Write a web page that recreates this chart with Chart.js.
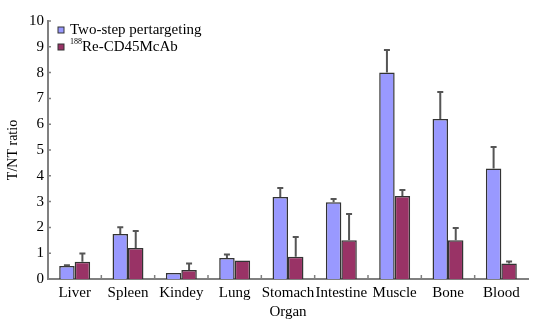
<!DOCTYPE html>
<html>
<head>
<meta charset="utf-8">
<script src="https://cdn.jsdelivr.net/npm/chart.js@4"></script>
<style>
html,body{margin:0;padding:0;background:#fff;}
#wrap{width:542px;height:324px;}
</style>
</head>
<body>
<div id="wrap"><canvas id="c" width="542" height="324"></canvas></div>
<script>
const categories = ['Liver','Spleen','Kindey','Lung','Stomach','Intestine','Muscle','Bone','Blood'];
const twoStep = [0.50,1.74,0.23,0.81,3.18,2.97,8.00,6.20,4.28];
const twoStepErr = [0.03,0.27,0.00,0.14,0.35,0.13,0.88,1.05,0.84];
const re188 = [0.67,1.20,0.35,0.72,0.86,1.50,3.22,1.50,0.60];
const re188Err = [0.32,0.66,0.25,0.00,0.77,1.02,0.23,0.48,0.08];
const yTicks = [0,1,2,3,4,5,6,7,8,9,10];
const errs = [twoStepErr, re188Err];

const FONT = 'Liberation Serif, Times New Roman, serif';

const extras = {
  id: 'extras',
  afterDatasetsDraw(chart) {
    const ctx = chart.ctx;
    const y = chart.scales.y, x = chart.scales.x;
    // error bars
    chart.data.datasets.forEach((ds, di) => {
      const meta = chart.getDatasetMeta(di);
      meta.data.forEach((bar, i) => {
        const e = errs[di][i];
        if (!e) return;
        const top = y.getPixelForValue(ds.data[i] + e);
        const bx = bar.x;
        ctx.save();
        ctx.strokeStyle = '#555';
        ctx.lineWidth = 2;
        ctx.beginPath();
        ctx.moveTo(bx, bar.y);
        ctx.lineTo(bx, top);
        ctx.moveTo(bx - 3, top);
        ctx.lineTo(bx + 3, top);
        ctx.stroke();
        ctx.restore();
      });
    });
    // axis ticks
    ctx.save();
    ctx.strokeStyle = '#808080';
    ctx.lineWidth = 1.5;
    ctx.beginPath();
    yTicks.forEach(v => {
      const py = y.getPixelForValue(v);
      ctx.moveTo(chart.chartArea.left, py);
      ctx.lineTo(chart.chartArea.left + 3, py);
    });
    const step = (chart.chartArea.right - chart.chartArea.left) / categories.length;
    for (let i = 1; i < categories.length; i++) {
      const px = chart.chartArea.left + step * i;
      ctx.moveTo(px, chart.chartArea.bottom);
      ctx.lineTo(px, chart.chartArea.bottom - 4);
    }
    ctx.stroke();
    ctx.restore();
    // legend
    const items = chart.data.datasets;
    const lx = 58;
    const rows = [30, 47];
    ctx.save();
    items.forEach((ds, i) => {
      const cy = rows[i];
      ctx.fillStyle = ds.backgroundColor;
      ctx.fillRect(lx, cy - 3, 6, 6);
      ctx.strokeStyle = '#333';
      ctx.lineWidth = 1;
      ctx.strokeRect(lx, cy - 3, 6, 6);
      ctx.fillStyle = '#000';
      ctx.textBaseline = 'middle';
      ctx.textAlign = 'left';
      let tx = 70;
      if (ds.sup) {
        ctx.font = '8px ' + FONT;
        ctx.fillText(ds.sup, tx, cy - 5);
        tx += ctx.measureText(ds.sup).width;
      }
      ctx.font = '15px ' + FONT;
      ctx.fillText(ds.legendText, tx, cy);
    });
    ctx.restore();
  }
};

new Chart(document.getElementById('c'), {
  type: 'bar',
  data: {
    labels: categories,
    datasets: [
      {label: 'Two-step pertargeting', legendText: 'Two-step pertargeting', data: twoStep,
       backgroundColor: '#9999FF', borderColor: '#333', borderWidth: 1.5,
       categoryPercentage: 0.58, barPercentage: 1.0},
      {label: '188Re-CD45McAb', sup: '188', legendText: 'Re-CD45McAb', data: re188,
       backgroundColor: '#993366', borderColor: '#333', borderWidth: 1.5,
       categoryPercentage: 0.58, barPercentage: 1.0}
    ]
  },
  options: {
    responsive: false,
    animation: false,
    devicePixelRatio: 1,
    layout: {padding: {top: 21, right: 14, left: 0, bottom: 0}},
    plugins: {legend: {display: false}, tooltip: {enabled: false}},
    scales: {
      x: {
        grid: {display: false, drawTicks: false},
        border: {display: true, color: '#808080', width: 2},
        ticks: {color: '#000', font: {family: FONT, size: 15}, padding: 5, maxRotation: 0, autoSkip: false},
        title: {display: true, text: 'Organ', color: '#000', font: {family: FONT, size: 15}, padding: {top: 0, bottom: 3}},
        afterFit(s) { s.height = 45; }
      },
      y: {
        min: 0, max: 10,
        grid: {display: false, drawTicks: false},
        border: {display: true, color: '#808080', width: 2},
        ticks: {stepSize: 1, color: '#000', font: {family: FONT, size: 15}, padding: 4},
        title: {display: true, text: 'T/NT ratio', color: '#000', font: {family: FONT, size: 14}, padding: {top: 5, bottom: 0}},
        afterFit(s) { s.width = 48; }
      }
    }
  },
  plugins: [extras]
});
</script>
</body>
</html>
